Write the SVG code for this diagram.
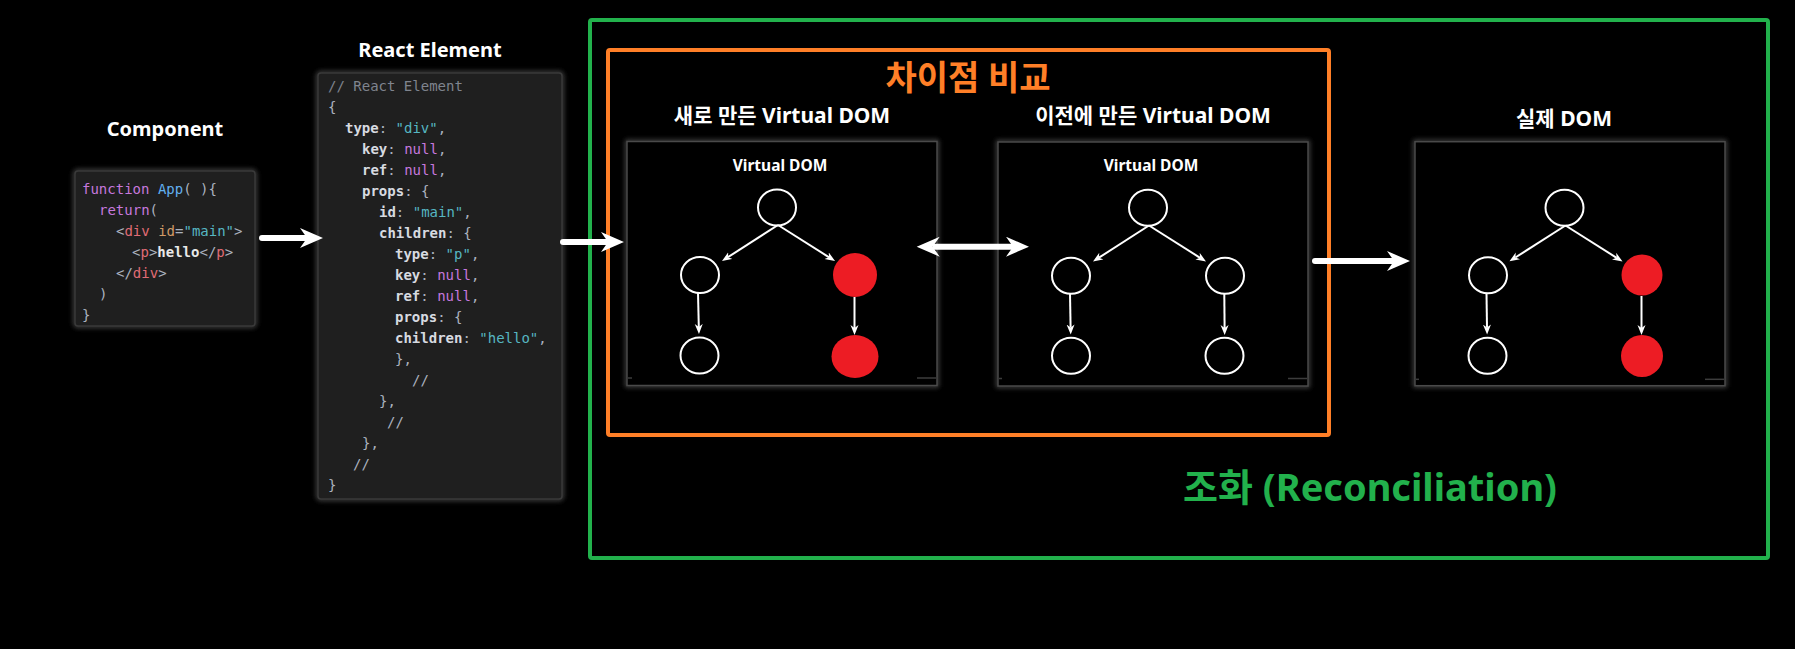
<svg xmlns="http://www.w3.org/2000/svg" width="1795" height="649" viewBox="0 0 1795 649">
<style>
.title{font-family:"Noto Sans","Noto Sans CJK KR",sans-serif;font-weight:bold;fill:#ffffff;text-anchor:middle}
.code{font-family:"DejaVu Sans Mono","Liberation Mono",monospace;font-size:14px;fill:#abb2bf}
.kw{fill:#c678dd}.fn{fill:#61afef}.tag{fill:#e06c75}.at{fill:#d19a66}.st{fill:#56b6c2}.cm{fill:#7f848e}
.k{fill:#d7dae0;font-weight:bold}.hl{fill:#e8e8e8;font-weight:bold}
.cbox{fill:#1f1f1f;stroke:#3a3a3a;stroke-width:1.5}
.vbox{fill:#000000;stroke:#4a4a4a;stroke-width:1.5}
.halo{fill:none;stroke:#5a5a5a;stroke-width:3}
.node{fill:#000000;stroke:#ffffff;stroke-width:2}
.red{fill:#ed1c24}
.edge{stroke:#ffffff;stroke-width:2;fill:none}
.big{stroke:#ffffff;stroke-width:6;fill:none;stroke-linecap:round}
.art{stroke:#3c3c3c;stroke-width:1.5}
</style>
<defs>
<filter id="glow" x="-10%" y="-10%" width="120%" height="120%"><feGaussianBlur stdDeviation="2.5"/></filter>
<marker id="bh" markerUnits="userSpaceOnUse" markerWidth="24" markerHeight="22" refX="7" refY="10" orient="auto-start-reverse" viewBox="0 0 24 22">
<path d="M0,0 L23,10 L0,20 L7,10 Z" fill="#ffffff"/>
</marker>
<marker id="sh" markerUnits="userSpaceOnUse" markerWidth="11" markerHeight="9" refX="3" refY="4" orient="auto" viewBox="0 0 11 9">
<path d="M0,0 L10,4 L0,8 L3,4 Z" fill="#ffffff"/>
</marker>
</defs>
<rect width="1795" height="649" fill="#000000"/>

<g id="reconciliation">
<rect x="590" y="20" width="1178" height="538" rx="2" fill="none" stroke="#22b14c" stroke-width="4"/>
<text x="1370" y="501" style="font-family:'Noto Sans','Noto Sans CJK KR',sans-serif;font-weight:bold;font-size:38px;fill:#22b14c;text-anchor:middle">조화 (Reconciliation)</text>
</g>

<g id="diff-compare">
<rect x="608" y="50" width="721" height="385" rx="2" fill="none" stroke="#ff7f27" stroke-width="4"/>
<text x="968" y="90" style="font-family:'Noto Sans','Noto Sans CJK KR',sans-serif;font-weight:bold;font-size:34px;fill:#ff7f27;text-anchor:middle">차이점 비교</text>
</g>

<g id="component">
<text class="title" x="165" y="135.5" font-size="20">Component</text>
<rect class="halo" x="75" y="171" width="180" height="155" rx="3" filter="url(#glow)"/>
<rect class="cbox" x="75" y="171" width="180" height="155" rx="3"/>
<g class="code" xml:space="preserve">
<text x="82" y="194"><tspan class="kw">function</tspan> <tspan class="fn">App</tspan>( ){</text>
<text x="99" y="215"><tspan class="kw">return</tspan>(</text>
<text x="116" y="236">&lt;<tspan class="tag">div</tspan> <tspan class="at">id</tspan>=<tspan class="st">"main"</tspan>&gt;</text>
<text x="132" y="257">&lt;<tspan class="tag">p</tspan>&gt;<tspan class="hl">hello</tspan>&lt;/<tspan class="tag">p</tspan>&gt;</text>
<text x="116" y="278">&lt;/<tspan class="tag">div</tspan>&gt;</text>
<text x="99" y="299">)</text>
<text x="82" y="320">}</text>
</g>
</g>

<g id="react-element">
<text class="title" x="430" y="56.5" font-size="20">React Element</text>
<rect class="halo" x="318" y="73" width="244" height="426" rx="3" filter="url(#glow)"/>
<rect class="cbox" x="318" y="73" width="244" height="426" rx="3"/>
<g class="code" xml:space="preserve">
<text x="328" y="91" class="cm">// React Element</text>
<text x="328" y="112">{</text>
<text x="345" y="133"><tspan class="k">type</tspan>: <tspan class="st">"div"</tspan>,</text>
<text x="362" y="154"><tspan class="k">key</tspan>: <tspan class="kw">null</tspan>,</text>
<text x="362" y="175"><tspan class="k">ref</tspan>: <tspan class="kw">null</tspan>,</text>
<text x="362" y="196"><tspan class="k">props</tspan>: {</text>
<text x="379" y="217"><tspan class="k">id</tspan>: <tspan class="st">"main"</tspan>,</text>
<text x="379" y="238"><tspan class="k">children</tspan>: {</text>
<text x="395" y="259"><tspan class="k">type</tspan>: <tspan class="st">"p"</tspan>,</text>
<text x="395" y="280"><tspan class="k">key</tspan>: <tspan class="kw">null</tspan>,</text>
<text x="395" y="301"><tspan class="k">ref</tspan>: <tspan class="kw">null</tspan>,</text>
<text x="395" y="322"><tspan class="k">props</tspan>: {</text>
<text x="395" y="343"><tspan class="k">children</tspan>: <tspan class="st">"hello"</tspan>,</text>
<text x="395" y="364">},</text>
<text x="412" y="385">//</text>
<text x="379" y="406">},</text>
<text x="387" y="427">//</text>
<text x="362" y="448">},</text>
<text x="353" y="469">//</text>
<text x="328" y="490">}</text>
</g>
</g>

<g id="new-vdom">
<text class="title" x="782" y="122.5" font-size="21">새로 만든 Virtual DOM</text>
<rect class="halo" x="627" y="141.5" width="310" height="244" filter="url(#glow)"/>
<rect class="vbox" x="627" y="141.5" width="310" height="244"/>
<line class="art" x1="628" y1="378" x2="632" y2="378"/><line class="art" x1="917" y1="378" x2="936" y2="378"/>
<text class="title" x="780" y="171" font-size="15.5">Virtual DOM</text>
<ellipse class="node" cx="777" cy="207.5" rx="19" ry="18"/>
<ellipse class="node" cx="700" cy="275" rx="19" ry="18"/>
<circle class="red" cx="855" cy="275" r="22"/>
<ellipse class="node" cx="699.5" cy="355.5" rx="19" ry="18"/>
<ellipse class="red" cx="855" cy="356.5" rx="23.5" ry="21.5"/>
<line class="edge" x1="778" y1="225" x2="727.9" y2="257.2" marker-end="url(#sh)"/>
<line class="edge" x1="778" y1="225" x2="829.1" y2="257.3" marker-end="url(#sh)"/>
<line class="edge" x1="698" y1="293" x2="698.8" y2="327" marker-end="url(#sh)"/>
<line class="edge" x1="854.5" y1="297" x2="854.5" y2="328" marker-end="url(#sh)"/>
</g>

<g id="prev-vdom">
<text class="title" x="1153" y="122.5" font-size="21">이전에 만든 Virtual DOM</text>
<rect class="halo" x="998" y="142" width="310" height="244" filter="url(#glow)"/>
<rect class="vbox" x="998" y="142" width="310" height="244"/>
<line class="art" x1="999" y1="378.5" x2="1002" y2="378.5"/><line class="art" x1="1288" y1="378.5" x2="1307" y2="378.5"/>
<text class="title" x="1151" y="171" font-size="15.5">Virtual DOM</text>
<ellipse class="node" cx="1148" cy="207.7" rx="19" ry="18"/>
<ellipse class="node" cx="1071" cy="275.7" rx="19" ry="18"/>
<ellipse class="node" cx="1225" cy="275.7" rx="19" ry="18"/>
<ellipse class="node" cx="1071" cy="355.7" rx="19" ry="18"/>
<ellipse class="node" cx="1224.5" cy="355.7" rx="19" ry="18"/>
<line class="edge" x1="1149" y1="225.5" x2="1098.9" y2="257.7" marker-end="url(#sh)"/>
<line class="edge" x1="1149" y1="225.5" x2="1200.1" y2="257.8" marker-end="url(#sh)"/>
<line class="edge" x1="1070" y1="293.5" x2="1070.6" y2="327.5" marker-end="url(#sh)"/>
<line class="edge" x1="1224.3" y1="294" x2="1224.6" y2="328" marker-end="url(#sh)"/>
</g>

<g id="real-dom">
<text class="title" x="1564" y="126" font-size="21">실제 DOM</text>
<rect class="halo" x="1415" y="141.7" width="310" height="244" filter="url(#glow)"/>
<rect class="vbox" x="1415" y="141.7" width="310" height="244"/>
<line class="art" x1="1416" y1="379.3" x2="1419" y2="379.3"/><line class="art" x1="1705" y1="379.3" x2="1724" y2="379.3"/>
<ellipse class="node" cx="1564.5" cy="207.7" rx="19" ry="18"/>
<ellipse class="node" cx="1488" cy="275.3" rx="19" ry="18"/>
<circle class="red" cx="1642" cy="275" r="20.5"/>
<ellipse class="node" cx="1487.5" cy="355.7" rx="19" ry="18"/>
<circle class="red" cx="1642" cy="356" r="21"/>
<line class="edge" x1="1565.5" y1="225.5" x2="1515.4" y2="257.5" marker-end="url(#sh)"/>
<line class="edge" x1="1565.5" y1="225.5" x2="1616.6" y2="257.8" marker-end="url(#sh)"/>
<line class="edge" x1="1486.5" y1="293.5" x2="1487" y2="327.5" marker-end="url(#sh)"/>
<line class="edge" x1="1641.5" y1="296" x2="1641.5" y2="328" marker-end="url(#sh)"/>
</g>

<g id="connectors">
<line class="big" x1="262" y1="238" x2="307" y2="238" marker-end="url(#bh)"/>
<line class="big" x1="563" y1="242" x2="608" y2="242" marker-end="url(#bh)"/>
<line class="big" x1="932.7" y1="246.7" x2="1013" y2="246.7" marker-start="url(#bh)" marker-end="url(#bh)" style="stroke-linecap:butt"/>
<line class="big" x1="1315" y1="261" x2="1394" y2="261" marker-end="url(#bh)"/>
</g>
</svg>
